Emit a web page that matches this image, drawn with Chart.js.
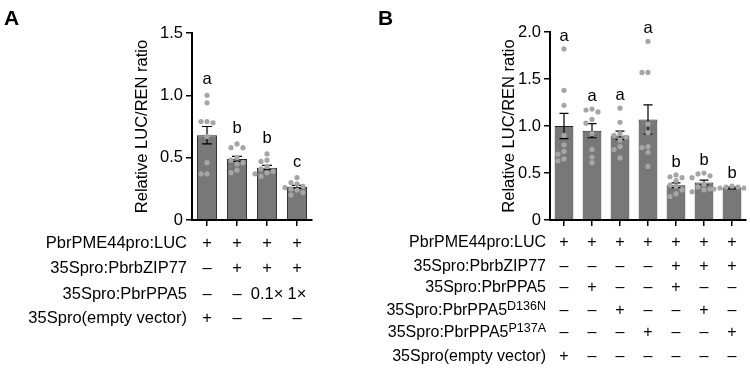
<!DOCTYPE html>
<html>
<head>
<meta charset="utf-8">
<script src="https://cdn.jsdelivr.net/npm/chart.js@4.4.1/dist/chart.umd.min.js"></script>
<style>
    html, body { margin: 0; padding: 0; background: #fff; }
    #wrap { position: relative; width: 750px; height: 369px; }
    canvas { position: absolute; top: 0; }
    #chart-a { left: 0; }
    #chart-b { left: 375px; }
</style>
</head>
<body>
<div id="wrap">
    <canvas id="chart-a" width="375" height="369"></canvas>
    <canvas id="chart-b" width="375" height="369"></canvas>
</div>
<script>
// ---- panel A data ----
var groupsA = ['EV', 'bZIP77', 'bZIP77 + 0.1x PPA5', 'bZIP77 + 1x PPA5'];
var meansA = [0.68, 0.49, 0.42, 0.265];
var semA = [0.07, 0.02, 0.018, 0.012];
var pointsA = [
    [1.00, 0.94, 0.79, 0.79, 0.78, 0.67, 0.46, 0.37, 0.37],
    [0.61, 0.58, 0.58, 0.50, 0.48, 0.46, 0.45, 0.40, 0.38],
    [0.53, 0.48, 0.47, 0.43, 0.41, 0.39, 0.38, 0.37, 0.35],
    [0.34, 0.30, 0.29, 0.27, 0.26, 0.25, 0.24, 0.22, 0.20]
];
var lettersA = ['a', 'b', 'b', 'c'];
var yTicksA = [0, 0.5, 1, 1.5];
var yTickLabelsA = ['0', '0.5', '1.0', '1.5'];
var rowLabelsA = ['PbrPME44pro:LUC', '35Spro:PbrbZIP77', '35Spro:PbrPPA5', '35Spro(empty vector)'];
var rowSupA = ['', '', '', ''];
var rowMarksA = [
    ['+', '+', '+', '+'],
    ['–', '+', '+', '+'],
    ['–', '–', '0.1×', '1×'],
    ['+', '–', '–', '–']
];

// ---- panel B data ----
var groupsB = ['EV', 'PPA5', 'D136N', 'P137A', 'bZIP77 + PPA5', 'bZIP77 + D136N', 'bZIP77 + P137A'];
var meansB = [1.00, 0.95, 0.90, 1.07, 0.37, 0.40, 0.34];
var semB = [0.135, 0.075, 0.045, 0.155, 0.025, 0.025, 0.01];
var pointsB = [
    [1.82, 1.38, 1.22, 0.90, 0.80, 0.73, 0.70, 0.65, 0.63],
    [1.18, 1.17, 1.15, 1.07, 1.03, 0.92, 0.75, 0.67, 0.61],
    [1.19, 1.04, 0.92, 0.90, 0.88, 0.85, 0.78, 0.75, 0.66],
    [1.90, 1.57, 1.57, 1.02, 0.93, 0.78, 0.77, 0.72, 0.57],
    [0.48, 0.46, 0.45, 0.42, 0.37, 0.36, 0.32, 0.28, 0.25],
    [0.50, 0.49, 0.47, 0.45, 0.38, 0.35, 0.33, 0.32, 0.30],
    [0.36, 0.35, 0.35, 0.34, 0.34, 0.33, 0.33, 0.32, 0.32]
];
var lettersB = ['a', 'a', 'a', 'a', 'b', 'b', 'b'];
var yTicksB = [0, 0.5, 1, 1.5, 2];
var yTickLabelsB = ['0', '0.5', '1.0', '1.5', '2.0'];
var rowLabelsB = ['PbrPME44pro:LUC', '35Spro:PbrbZIP77', '35Spro:PbrPPA5', '35Spro:PbrPPA5', '35Spro:PbrPPA5', '35Spro(empty vector)'];
var rowSupB = ['', '', '', 'D136N', 'P137A', ''];
var rowMarksB = [
    ['+', '+', '+', '+', '+', '+', '+'],
    ['–', '–', '–', '–', '+', '+', '+'],
    ['–', '+', '–', '–', '+', '–', '–'],
    ['–', '–', '+', '–', '–', '+', '–'],
    ['–', '–', '–', '+', '–', '–', '+'],
    ['+', '–', '–', '–', '–', '–', '–']
];

var FONT = "'Liberation Sans', Arial, sans-serif";

var panelExtras = {
    id: 'panelExtras',
    afterDatasetDraw: function(chart, args, opts) {
        if (args.index !== 0) {
            return;
        }
        var ctx = chart.ctx;
        var x = chart.scales.x;
        var y = chart.scales.y;
        ctx.save();
        ctx.strokeStyle = '#000';
        ctx.lineWidth = 1.2;
        opts.means.forEach(function(m, i) {
            var cx = x.getPixelForValue(i);
            var hi = y.getPixelForValue(m + opts.sem[i]);
            var lo = y.getPixelForValue(m - opts.sem[i]);
            ctx.beginPath();
            ctx.moveTo(cx, hi);
            ctx.lineTo(cx, lo);
            ctx.moveTo(cx - opts.cap, hi);
            ctx.lineTo(cx + opts.cap, hi);
            ctx.moveTo(cx - opts.cap, lo);
            ctx.lineTo(cx + opts.cap, lo);
            ctx.stroke();
        });
        ctx.restore();
    },
    afterDraw: function(chart, args, opts) {
        var ctx = chart.ctx;
        var x = chart.scales.x;
        var y = chart.scales.y;
        ctx.save();
        ctx.fillStyle = '#000';

        // significance letters
        ctx.font = opts.fontSize + 'px ' + FONT;
        ctx.textAlign = 'center';
        ctx.textBaseline = 'alphabetic';
        opts.letters.forEach(function(letter, i) {
            var top = Math.max(Math.max.apply(null, opts.points[i]), opts.means[i] + opts.sem[i]);
            ctx.fillText(letter, x.getPixelForValue(i), y.getPixelForValue(top) - opts.letterGap);
        });

        // treatment table
        ctx.textBaseline = 'middle';
        opts.rowLabels.forEach(function(label, r) {
            var ry = opts.rowY[r];
            var right = opts.labelRight;
            var sup = opts.rowSup[r];
            if (sup) {
                ctx.font = opts.supSize + 'px ' + FONT;
                var sw = ctx.measureText(sup).width;
                ctx.textAlign = 'left';
                ctx.fillText(sup, right - sw, ry - 4);
                right -= sw;
            }
            ctx.font = opts.tableSize + 'px ' + FONT;
            ctx.textAlign = 'right';
            ctx.fillText(label, right, ry);
            ctx.textAlign = 'center';
            opts.rowMarks[r].forEach(function(mark, i) {
                ctx.fillText(mark, x.getPixelForValue(i), ry);
            });
        });

        // panel letter
        ctx.font = 'bold 21px ' + FONT;
        ctx.textAlign = 'left';
        ctx.textBaseline = 'alphabetic';
        ctx.fillText(opts.panel, opts.panelX, 25);
        ctx.restore();
    }
};

function beeswarm(values, ppu, catW) {
    var cands = [0, -6, 6, -12, 12, -3, 3, -9, 9, -15, 15, -18, 18];
    var placed = [];
    var out = new Array(values.length);
    var order = values.map(function(v, i) { return i; }).sort(function(a, b) { return values[b] - values[a]; });
    order.forEach(function(i) {
        var py = values[i] * ppu;
        var pick = cands[cands.length - 1];
        for (var c = 0; c < cands.length; c++) {
            var ok = placed.every(function(p) {
                var dx = p.x - cands[c];
                var dy = p.y - py;
                return dx * dx + dy * dy >= 30;
            });
            if (ok) {
                pick = cands[c];
                break;
            }
        }
        placed.push({ x: pick, y: py });
        out[i] = pick / catW;
    });
    return out;
}

function makePanel(id, p) {
    var canvas = document.getElementById(id);
    var n = p.groups.length;

    var chart = new Chart(canvas, {
        data: {
            datasets: [
                {
                    type: 'bar',
                    label: 'Mean',
                    data: p.means.map(function(m, i) { return { x: i, y: m }; }),
                    backgroundColor: '#787878',
                    borderColor: '#262626',
                    borderWidth: 1,
                    barPercentage: 0.67,
                    categoryPercentage: 1,
                    order: 2
                },
                {
                    type: 'scatter',
                    label: 'Replicates',
                    data: [],
                    backgroundColor: '#a6a6a6',
                    borderWidth: 0,
                    pointRadius: 2.6,
                    order: 1
                }
            ]
        },
        options: {
            responsive: false,
            animation: false,
            layout: {
                padding: { left: p.padLeft, right: p.padRight, top: p.padTop, bottom: 0 }
            },
            plugins: {
                legend: { display: false },
                tooltip: { enabled: false },
                panelExtras: {
                    means: p.means,
                    sem: p.sem,
                    points: p.points,
                    letters: p.letters,
                    letterGap: p.letterGap,
                    cap: p.cap,
                    fontSize: 16.5,
                    tableSize: p.tableSize,
                    supSize: 12.5,
                    rowLabels: p.rowLabels,
                    rowSup: p.rowSup,
                    rowMarks: p.rowMarks,
                    rowY: p.rowY,
                    labelRight: p.labelRight,
                    panel: p.panel,
                    panelX: p.panelX
                }
            },
            scales: {
                x: {
                    type: 'linear',
                    offset: false,
                    min: -0.5,
                    max: n - 0.5,
                    afterBuildTicks: function(scale) {
                        scale.ticks = p.groups.map(function(g, i) { return { value: i }; });
                    },
                    afterFit: function(scale) {
                        scale.height = 149;
                    },
                    ticks: { display: false },
                    grid: { offset: false, drawOnChartArea: false, drawTicks: true, tickLength: 6, color: '#000', lineWidth: 1.5 },
                    border: { color: '#000', width: 2 }
                },
                y: {
                    min: 0,
                    max: p.yTicks[p.yTicks.length - 1],
                    afterBuildTicks: function(scale) {
                        scale.ticks = p.yTicks.map(function(v) { return { value: v }; });
                    },
                    afterFit: function(scale) {
                        scale.width = p.axisWidth;
                    },
                    ticks: {
                        color: '#000',
                        padding: 3,
                        font: { family: FONT, size: 16.5 },
                        callback: function(value, index) {
                            return p.yTickLabels[index];
                        }
                    },
                    grid: { drawOnChartArea: false, drawTicks: true, tickLength: 6, color: '#000', lineWidth: 1.5 },
                    border: { color: '#000', width: 2 },
                    title: {
                        display: true,
                        text: 'Relative LUC/REN ratio',
                        color: '#000',
                        padding: 0,
                        font: { family: FONT, size: 16.5 }
                    }
                }
            }
        },
        plugins: [panelExtras]
    });

    // spread the replicate dots sideways so they do not overlap
    var ppu = chart.scales.y.getPixelForValue(0) - chart.scales.y.getPixelForValue(1);
    var catW = chart.scales.x.getPixelForValue(1) - chart.scales.x.getPixelForValue(0);
    var dots = [];
    p.points.forEach(function(vals, i) {
        var offs = beeswarm(vals, ppu, catW);
        vals.forEach(function(v, k) {
            dots.push({ x: i + offs[k], y: v });
        });
    });
    chart.data.datasets[1].data = dots;
    chart.update();
    return chart;
}

makePanel('chart-a', {
    groups: groupsA, means: meansA, sem: semA, points: pointsA, letters: lettersA,
    yTicks: yTicksA, yTickLabels: yTickLabelsA,
    rowLabels: rowLabelsA, rowSup: rowSupA, rowMarks: rowMarksA,
    rowY: [243, 268, 294, 318], labelRight: 187, tableSize: 16.5,
    padLeft: 133, axisWidth: 59, padRight: 63, padTop: 33,
    letterGap: 11, cap: 5, panel: 'A', panelX: 4
});

makePanel('chart-b', {
    groups: groupsB, means: meansB, sem: semB, points: pointsB, letters: lettersB,
    yTicks: yTicksB, yTickLabels: yTickLabelsB,
    rowLabels: rowLabelsB, rowSup: rowSupB, rowMarks: rowMarksB,
    rowY: [243, 267, 288, 311, 333, 357], labelRight: 171, tableSize: 16,
    padLeft: 125, axisWidth: 50, padRight: 4, padTop: 32,
    letterGap: 8, cap: 4.5, panel: 'B', panelX: 3
});
</script>
</body>
</html>
